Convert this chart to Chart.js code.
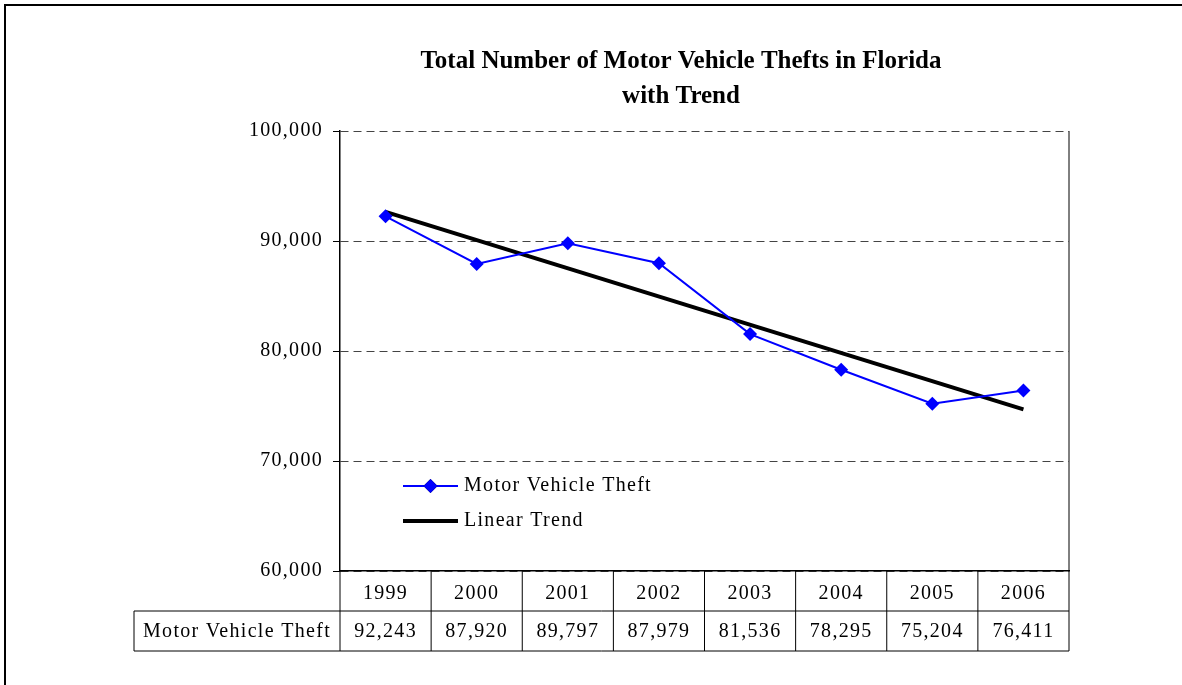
<!DOCTYPE html>
<html>
<head>
<meta charset="utf-8">
<script src="https://cdn.jsdelivr.net/npm/chart.js@4"></script>
<style>
  html, body { margin: 0; padding: 0; background: #fff; }
  #wrap { width: 1182px; height: 685px; }
</style>
</head>
<body>
<div id="wrap"><canvas id="theftChart"></canvas></div>
<script>
var years = ['1999', '2000', '2001', '2002', '2003', '2004', '2005', '2006'];
var theftValues = [92243, 87920, 89797, 87979, 81536, 78295, 75204, 76411];
// trend line end points
var trendValues = [92646, null, null, null, null, null, null, 74700];
var yTicks = [60000, 70000, 80000, 90000, 100000];
var chartTitle = ['Total Number of Motor Vehicle Thefts in Florida', 'with Trend'];
var seriesLabel = 'Motor Vehicle Theft';
var trendLabel = 'Linear Trend';

var serif = "'Liberation Serif', 'Times New Roman', serif";

function fmt(v) {
    return v.toLocaleString('en-US');
}

function line(ctx, x1, y1, x2, y2) {
    ctx.beginPath();
    ctx.moveTo(x1, y1);
    ctx.lineTo(x2, y2);
    ctx.stroke();
}

// title, legend, data table and frame, drawn the way Excel lays them out
var excelExtras = {
    id: 'excelExtras',
    beforeDraw: function (chart) {
        chart.ctx.letterSpacing = '1.3px';
    },
    afterDraw: function (chart) {
        var ctx = chart.ctx;
        var area = chart.chartArea;
        var xs = chart.scales.x;
        var step = xs.getPixelForValue(1) - xs.getPixelForValue(0);
        var rowH = 40;
        var labelLeft = 134;
        var top = Math.round(area.bottom);

        ctx.save();
        ctx.strokeStyle = '#000';
        ctx.lineWidth = 1;

        // right edge of the plot area
        line(ctx, area.right, area.top, area.right, area.bottom);

        // data table grid
        for (var i = 0; i <= years.length; i++) {
            var bx = xs.getPixelForValue(0) - step / 2 + i * step;
            line(ctx, bx, top, bx, top + 2 * rowH);
        }
        line(ctx, labelLeft, top + rowH, area.right, top + rowH);
        line(ctx, labelLeft, top + 2 * rowH, area.right, top + 2 * rowH);
        line(ctx, labelLeft, top + rowH, labelLeft, top + 2 * rowH);

        ctx.fillStyle = '#000';
        ctx.font = '20px ' + serif;
        ctx.letterSpacing = '1.3px';
        ctx.textBaseline = 'middle';
        ctx.textAlign = 'center';
        ctx.fillText(seriesLabel, (labelLeft + area.left) / 2, top + rowH * 1.5 + 1);
        theftValues.forEach(function (v, i) {
            ctx.fillText(fmt(v), xs.getPixelForValue(i), top + rowH * 1.5 + 1);
        });

        // legend
        var ds = chart.data.datasets;
        var lx1 = 403, lx2 = 458, ly = [486, 521];
        ctx.textAlign = 'left';
        ds.forEach(function (d, i) {
            ctx.strokeStyle = d.borderColor;
            ctx.lineWidth = d.borderWidth;
            line(ctx, lx1, ly[i], lx2, ly[i]);
            if (d.pointRadius > 0) {
                Chart.helpers.drawPoint(ctx, {
                    pointStyle: d.pointStyle,
                    radius: d.pointRadius,
                    borderWidth: 0,
                    rotation: 0
                }, (lx1 + lx2) / 2, ly[i]);
                ctx.fillStyle = d.backgroundColor;
                ctx.fill();
            }
            ctx.fillStyle = '#000';
            ctx.fillText(d.label, 464, ly[i]);
        });

        // title
        ctx.letterSpacing = '0px';
        ctx.font = 'bold 25px ' + serif;
        ctx.textAlign = 'center';
        ctx.fillText(chartTitle[0], 681, 62);
        ctx.fillText(chartTitle[1], 681, 97);

        // outer frame
        ctx.strokeStyle = '#000';
        ctx.lineWidth = 2;
        ctx.beginPath();
        ctx.moveTo(5, chart.height + 5);
        ctx.lineTo(5, 5);
        ctx.lineTo(chart.width + 5, 5);
        ctx.stroke();
        ctx.restore();
    }
};

var ctx = document.getElementById('theftChart').getContext('2d');
new Chart(ctx, {
    type: 'line',
    data: {
        labels: years,
        datasets: [{
            label: seriesLabel,
            data: theftValues,
            borderColor: '#0000ff',
            backgroundColor: '#0000ff',
            borderWidth: 2,
            pointStyle: 'rectRot',
            pointRadius: 7,
            pointBorderWidth: 0,
            tension: 0
        }, {
            label: trendLabel,
            data: trendValues,
            spanGaps: true,
            borderColor: '#000',
            backgroundColor: '#000',
            borderWidth: 4,
            pointRadius: 0,
            tension: 0
        }]
    },
    options: {
        responsive: true,
        maintainAspectRatio: false,
        animation: false,
        layout: { padding: { top: 131, right: 113, bottom: 34, left: 0 } },
        plugins: {
            legend: { display: false },
            title: { display: false },
            tooltip: { enabled: false }
        },
        scales: {
            x: {
                offset: true,
                grid: { display: false },
                border: { display: true, color: '#000', width: 1.5 },
                ticks: { color: '#000', font: { family: serif, size: 20 }, padding: 3, maxRotation: 0 },
                afterFit: function (s) { s.height = 80; }
            },
            y: {
                min: yTicks[0],
                max: yTicks[yTicks.length - 1],
                afterBuildTicks: function (s) {
                    s.ticks = yTicks.map(function (v) { return { value: v }; });
                },
                afterFit: function (s) { s.width = 340; },
                grid: { color: '#444', lineWidth: 1, tickLength: 7, tickColor: '#000', tickBorderDash: [] },
                border: { color: '#000', width: 1.5, dash: [8, 5] },
                ticks: {
                    color: '#000',
                    padding: 10,
                    font: { family: serif, size: 20 },
                    callback: function (v) { return fmt(v); }
                }
            }
        }
    },
    plugins: [excelExtras]
});
</script>
</body>
</html>
